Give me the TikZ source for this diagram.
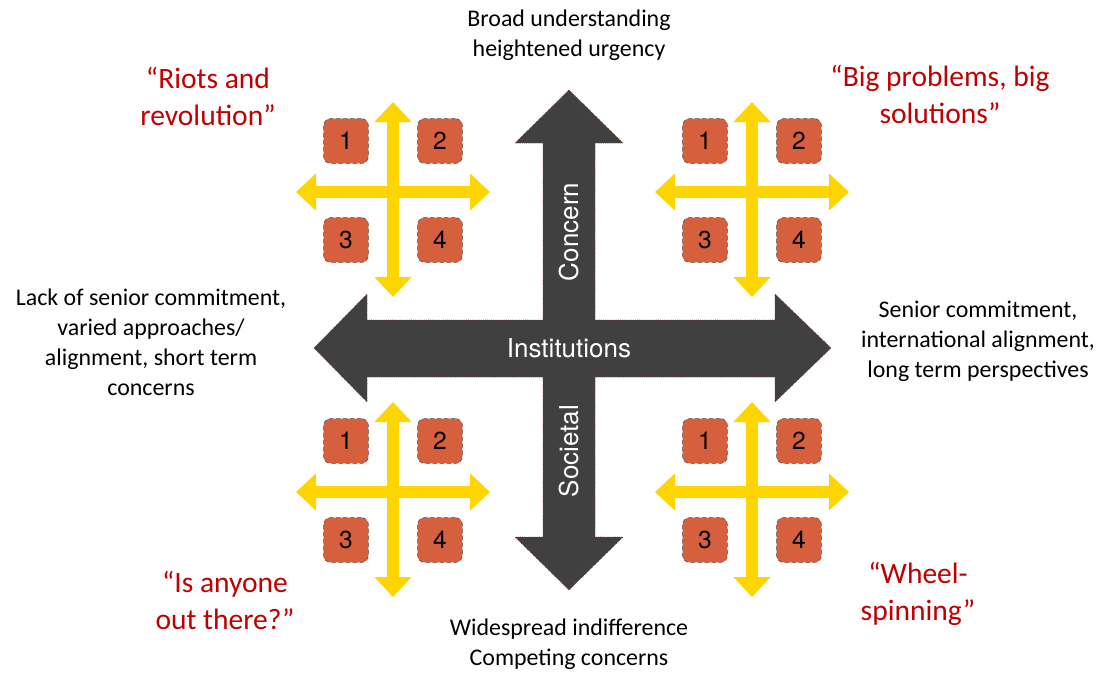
\documentclass[tikz,border=0pt]{standalone}
\usepackage{fontspec}
\setmainfont{Carlito}
\newfontfamily\gothic{TeX Gyre Heros}
\usetikzlibrary{arrows.meta}
\definecolor{DARK}{HTML}{404040}
\definecolor{RIM}{HTML}{7A3A30}
\definecolor{TILE}{HTML}{D65F3E}
\definecolor{GOLD}{HTML}{FFD500}
\definecolor{QUOTE}{HTML}{C00000}

\begin{document}
\begin{tikzpicture}[x=0.025cm, y=-0.025cm,
    tile/.style={draw=gray!60!black, densely dashed, line width=0.4pt, fill=TILE, rounded corners=5pt, minimum size=1.12cm, inner sep=0pt, font=\gothic\fontsize{17.5}{20}\selectfont},
    axis/.style={GOLD, line width=0.3cm, {Triangle[width=0.9cm,length=0.5cm]}-{Triangle[width=0.9cm,length=0.5cm]}},
    note/.style={align=center, font=\fontsize{17}{21.3}\selectfont},
    scenario/.style={align=center, text=QUOTE, font=\fontsize{21}{26.3}\selectfont},
    armtext/.style={text=white, inner sep=0pt, font=\gothic\fontsize{18.5}{22}\selectfont}]
    \useasboundingbox (0,0) rectangle (1104,673);

    % big double-headed cross
    \draw[RIM, densely dotted, line width=0.5pt, fill=DARK]
        (569,90) -- (623,143) -- (595,143) -- (595,320) -- (775,320) -- (775,294)
        -- (831,348) -- (775,402) -- (775,377) -- (595,377) -- (595,537) -- (623,537)
        -- (569,590) -- (515,537) -- (543,537) -- (543,377) -- (367,377) -- (367,402)
        -- (314,348) -- (367,294) -- (367,320) -- (543,320) -- (543,143) -- (515,143) -- cycle;
    \node[armtext] (inst) at (569,348) {Institutions};
    \node[armtext, rotate=90] (concern) at (569,232) {Concern};
    \node[armtext, rotate=90] (societal) at (569,451) {Societal};

    % the four small crosses
    \foreach \q/\cx/\cy in {a/393/192, b/752/192, c/393/492, d/752/492} {
        \coordinate (\q-n) at (\cx,\cy-90);
        \coordinate (\q-s) at (\cx,\cy+105);
        \coordinate (\q-w) at (\cx-97,\cy);
        \coordinate (\q-e) at (\cx+97,\cy);
        \draw[axis] (\q-s) -- (\q-n);
        \draw[axis] (\q-w) -- (\q-e);
        \node[tile] (\q1) at (\cx-47,\cy-51) {1};
        \node[tile] (\q2) at (\cx+47,\cy-51) {2};
        \node[tile] (\q3) at (\cx-47,\cy+48) {3};
        \node[tile] (\q4) at (\cx+47,\cy+48) {4};
    }

    % axis ends
    \node[note] (top) at (569,35) {Broad understanding\\heightened urgency};
    \node[note] (bottom) at (569,644) {Widespread indifference\\Competing concerns};
    \node[note] (left) at (151,342) {Lack of senior commitment,\\varied approaches/\\alignment, short term\\concerns};
    \node[note] (right) at (978,341) {Senior commitment,\\international alignment,\\long term perspectives};

    % scenarios
    \node[scenario] (riots) at (208,96) {“Riots and\\revolution”};
    \node[scenario] (bigsol) at (940,94) {“Big problems, big\\solutions”};
    \node[scenario] (anyone) at (225,600) {“Is anyone\\out there?”};
    \node[scenario] (wheel) at (918,594) {“Wheel-\\spinning”};
\end{tikzpicture}
\end{document}
